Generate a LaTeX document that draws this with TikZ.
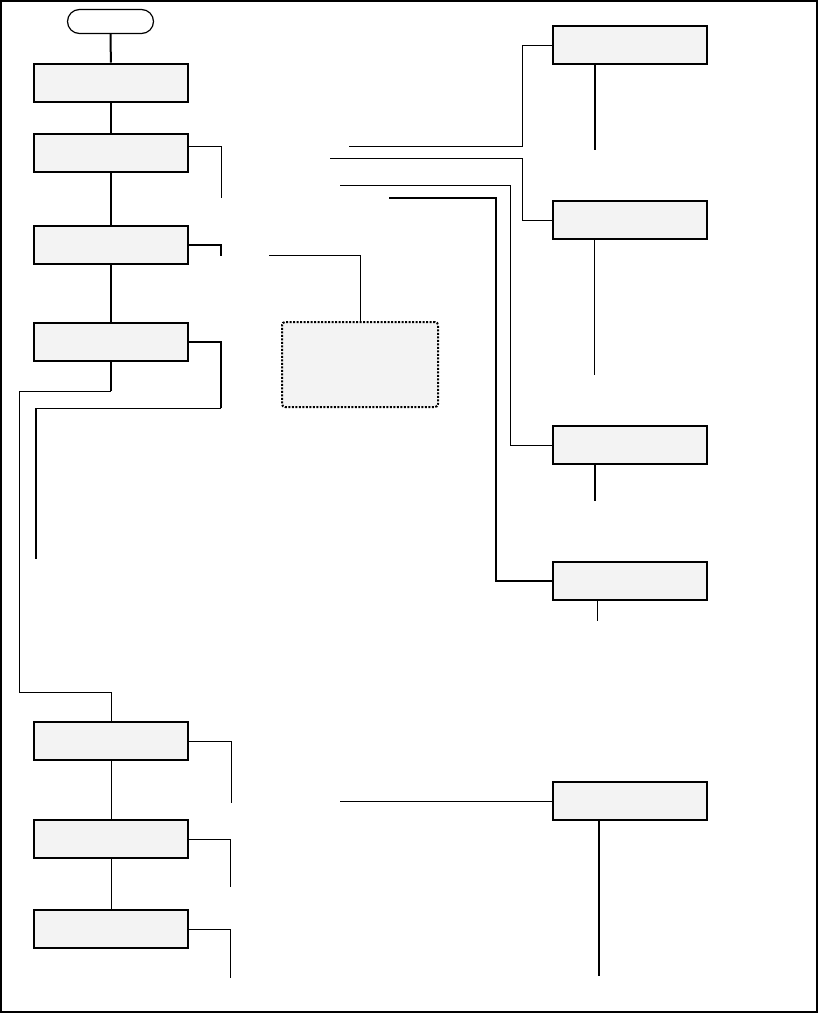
\documentclass[tikz,border=0pt]{standalone}
\usetikzlibrary{positioning}
\definecolor{boxfill}{HTML}{F3F3F3}

\begin{document}
\begin{tikzpicture}[x=1pt, y=-1pt,
    proc/.style={draw, fill=boxfill, line width=2pt, minimum width=154pt,
                 minimum height=38pt, inner sep=0pt},
    term/.style={draw, fill=white, line width=1.2pt, rounded corners=12pt,
                 minimum width=86pt, minimum height=24pt, inner sep=0pt},
    note/.style={draw, fill=boxfill, line width=2pt, dash pattern=on 2pt off 1.5pt,
                 rounded corners=3pt, minimum width=156pt, minimum height=85pt, inner sep=0pt},
    link/.style={draw, line width=1pt},
    bold/.style={draw, line width=2pt},
  ]
  \useasboundingbox (0,0) rectangle (818,1013);
  \draw[line width=1.5pt] (1,1) rectangle (817,1012);

  % main column
  \node[term] (start) at (110.5,21.5) {};
  \node[proc] (b1) at (111,82.5) {};
  \node[proc] (b2) at (111,153)  {};
  \node[proc] (b3) at (111,245)  {};
  \node[proc] (b4) at (111,342)  {};
  \node[proc] (b5) at (111,741)  {};
  \node[proc] (b6) at (111,839)  {};
  \node[proc] (b7) at (111,929)  {};

  % right column
  \node[proc] (r1) at (630,45)  {};
  \node[proc] (r2) at (630,220) {};
  \node[proc] (r3) at (630,445) {};
  \node[proc] (r4) at (630,581) {};
  \node[proc] (r5) at (630,801) {};

  % dotted note box
  \node[note] (memo) at (360,364.5) {};

  % main flow
  \draw[bold] (start) -- (b1);
  \draw[bold] (b1) -- (b2);
  \draw[bold] (b2) -- (b3);
  \draw[bold] (b3) -- (b4);
  \coordinate (lpA) at (111,391);
  \coordinate (lpB) at (19,391);
  \coordinate (lpC) at (19,692);
  \coordinate (lpD) at (111,692);
  \draw[bold] (b4) -- (lpA);
  \draw[link] (lpA) -- (lpB) -- (lpC) -- (lpD) -- (b5);
  \draw[link] (b5) -- (b6);
  \draw[link] (b6) -- (b7);

  % side stubs of the main column
  \coordinate (s2) at (221,198);
  \coordinate (s3) at (221,256);
  \coordinate (s4a) at (221,408);
  \coordinate (s4b) at (36,408);
  \coordinate (s4c) at (36,559);
  \coordinate (s5) at (231,803);
  \coordinate (s6) at (230,887);
  \coordinate (s7) at (230,978);
  \draw[link] ([yshift=7pt]b2.east) -| (s2);
  \draw[bold] (b3.east) -| (s3);
  \draw[bold] (b4.east) -| (s4a);
  \draw[link] (s4a) -- (s4b);
  \draw[bold] (s4b) -- (s4c);
  \draw[link] (b5.east) -| (s5);
  \draw[link] (b6.east) -| (s6);
  \draw[link] (b7.east) -| (s7);

  % feeds into the right column
  \coordinate (ma) at (349,146);
  \coordinate (mb) at (330,158);
  \coordinate (mc) at (340,185);
  \coordinate (md) at (389,198);
  \coordinate (me) at (269,255);
  \coordinate (mf) at (340,801);
  \draw[link] (ma) -| ([xshift=-30pt]r1.west) -- (r1.west);
  \draw[link] (mb) -| ([xshift=-30pt]r2.west) -- (r2.west);
  \draw[link] (mc) -| ([xshift=-42pt]r3.west) -- (r3.west);
  \draw[bold] (md) -| ([xshift=-56pt]r4.west) -- (r4.west);
  \draw[link] (me) -| (memo.north);
  \draw[link] (mf) -- (r5.west);

  % stubs under the right column
  \coordinate (t1) at (595,150);
  \coordinate (t2) at (594,375);
  \coordinate (t3) at (595,501);
  \coordinate (t4) at (597,621);
  \coordinate (t5) at (599,976);
  \draw[bold] (r1.south -| t1) -- (t1);
  \draw[link] (r2.south -| t2) -- (t2);
  \draw[bold] (r3.south -| t3) -- (t3);
  \draw[link] (r4.south -| t4) -- (t4);
  \draw[bold] (r5.south -| t5) -- (t5);
\end{tikzpicture}
\end{document}
